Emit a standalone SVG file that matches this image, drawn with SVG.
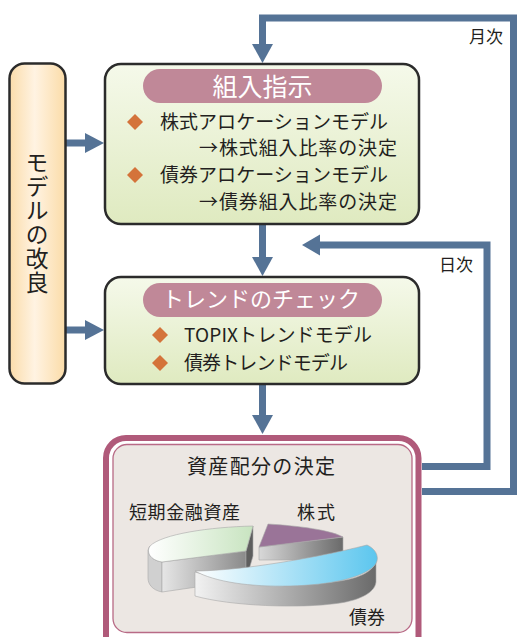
<svg xmlns="http://www.w3.org/2000/svg" width="517" height="637" viewBox="0 0 517 637">
<defs>
<linearGradient id="gBox" x1="0" y1="0" x2="0" y2="1"><stop offset="0" stop-color="#f5f9ea"/><stop offset="1" stop-color="#dfeac0"/></linearGradient>
<linearGradient id="gLeft" x1="0" y1="0" x2="1" y2="0"><stop offset="0" stop-color="#fbdcaa"/><stop offset="0.45" stop-color="#fff3e2"/><stop offset="1" stop-color="#fbdca8"/></linearGradient>
<linearGradient id="gGreen" x1="0" y1="0" x2="1" y2="0"><stop offset="0" stop-color="#ffffff"/><stop offset="1" stop-color="#c8e4c0"/></linearGradient>
<linearGradient id="gBlue" x1="0" y1="0" x2="1" y2="0"><stop offset="0" stop-color="#ffffff"/><stop offset="1" stop-color="#5cc6ee"/></linearGradient>
<linearGradient id="gSide" x1="0" y1="0" x2="1" y2="0"><stop offset="0" stop-color="#f2f2f2"/><stop offset="1" stop-color="#6a6a6a"/></linearGradient>
<linearGradient id="gSide2" x1="0" y1="0" x2="1" y2="0"><stop offset="0" stop-color="#e6e6e6"/><stop offset="1" stop-color="#8a8a8a"/></linearGradient>
<linearGradient id="gPurpleSide" x1="0" y1="0" x2="1" y2="0"><stop offset="0" stop-color="#d8d8d8"/><stop offset="1" stop-color="#6a6a6a"/></linearGradient>
</defs>
<style>
text{font-family:"Noto Sans CJK JP","Noto Sans",sans-serif;fill:#231f20}
.box{fill:url(#gBox);stroke:#2b2b2b;stroke-width:2.5}
.pill{fill:#c08898}
.title{fill:#ffffff;text-anchor:middle}
.item{font-size:19px}
.dia{fill:#d4733a}
.conn{fill:none;stroke:#557396;stroke-width:7}
.head{fill:#557396}
.lbl{font-size:17px}
.pie{stroke:#a8a8a8;stroke-width:0.6}
</style>

<g id="connectors">
<path class="conn" d="M422,491.5 H513.5 V18 H262.5 V46"/>
<polygon class="head" points="252,44 273,44 262.5,63"/>
<path class="conn" d="M422,466.5 H487 V245 H318"/>
<polygon class="head" points="320,234.5 320,255.5 302,245"/>
<path class="conn" d="M262.5,224 V259"/>
<polygon class="head" points="252,257 273,257 262.5,276"/>
<path class="conn" d="M262.5,384 V417"/>
<polygon class="head" points="252,415 273,415 262.5,434"/>
<path class="conn" d="M66,143 H87"/>
<polygon class="head" points="85,133 85,153 104,143"/>
<path class="conn" d="M66,330 H87"/>
<polygon class="head" points="85,320 85,340 104,330"/>
<text class="lbl" x="469" y="43">月次</text>
<text class="lbl" x="439" y="271">日次</text>
</g>

<g id="model-improvement">
<rect x="9.5" y="63.5" width="56" height="320" rx="15" fill="url(#gLeft)" stroke="#2b2b2b" stroke-width="2.5"/>
<text x="37" y="151" font-size="23" style="writing-mode:vertical-rl;font-size:23px" letter-spacing="1">モデルの改良</text>
</g>

<g id="order-instruction">
<rect class="box" x="105" y="64" width="314" height="160" rx="16"/>
<rect class="pill" x="143" y="69" width="239" height="34" rx="17"/>
<text class="title" x="262.5" y="96" style="font-size:25px">組入指示</text>
<polygon class="dia" points="135,114 143,122 135,130 127,122"/>
<text class="item" x="160" y="129" textLength="228" lengthAdjust="spacing">株式アロケーションモデル</text>
<text class="item" x="199" y="155" textLength="198" lengthAdjust="spacing">→株式組入比率の決定</text>
<polygon class="dia" points="135,167 143,175 135,183 127,175"/>
<text class="item" x="160" y="182" textLength="228" lengthAdjust="spacing">債券アロケーションモデル</text>
<text class="item" x="199" y="209" textLength="198" lengthAdjust="spacing">→債券組入比率の決定</text>
</g>

<g id="trend-check">
<rect class="box" x="105" y="277" width="314" height="107" rx="16"/>
<rect class="pill" x="143" y="283" width="239" height="34" rx="17"/>
<text class="title" x="261" y="307" style="font-size:22px">トレンドのチェック</text>
<polygon class="dia" points="160,327 168,335 160,343 152,335"/>
<text class="item" x="184" y="342" textLength="188" lengthAdjust="spacing">TOPIXトレンドモデル</text>
<polygon class="dia" points="160,355 168,363 160,371 152,363"/>
<text class="item" x="184" y="370" textLength="164" lengthAdjust="spacing">債券トレンドモデル</text>
</g>

<g id="asset-allocation">
<rect x="106" y="438" width="312.5" height="240" rx="20" fill="#ffffff" stroke="#b05a7a" stroke-width="6"/>
<rect x="113" y="444.5" width="299" height="188" rx="14" fill="#ece7e3" stroke="#b86a86" stroke-width="1.3"/>
<text x="261" y="474" font-size="20" text-anchor="middle" textLength="148" lengthAdjust="spacing">資産配分の決定</text>
<text x="129" y="519" font-size="18" textLength="111" lengthAdjust="spacing">短期金融資産</text>
<text x="297" y="519" font-size="18" textLength="38" lengthAdjust="spacing">株式</text>
<text x="349" y="624" font-size="18" textLength="36" lengthAdjust="spacing">債券</text>
<!-- short-term piece -->
<path class="pie" d="M150,546 C146,552 150,560 162,562 L162,592 C152,590 148,584 148,578 L148,550 Z" fill="#d0d0d0"/>
<path class="pie" d="M162,562 L246,551 L246,580 L162,592 Z" fill="url(#gSide2)"/>
<path class="pie" d="M253,526 L246,551 L246,580 L253,556 Z" fill="#5e5e5e"/>
<path class="pie" d="M253,526 L246,551 L162,562 C150,560 146,552 150,546 C162,534 210,527 253,526 Z" fill="url(#gGreen)"/>
<!-- stock piece -->
<path class="pie" d="M259,547 L343,537 L343,560 L259,560 Z" fill="url(#gPurpleSide)"/>
<path class="pie" d="M268,524 C300,526 330,530 343,537 L259,547 Z" fill="#9a7498"/>
<!-- bond piece -->
<path class="pie" d="M195,572 C230,582 300,587 340,581 C365,577 377,568 376,558 L376,580 C377,592 360,600 340,603 C300,609 230,606 195,596 Z" fill="url(#gSide)"/>
<path class="pie" d="M195,571 C210,571 235,569 257,566 C300,560 340,552 367,545 C378,550 380,560 374,566 C362,578 330,585 290,586 C250,587 215,582 195,571 Z" fill="url(#gBlue)"/>
</g>
</svg>
